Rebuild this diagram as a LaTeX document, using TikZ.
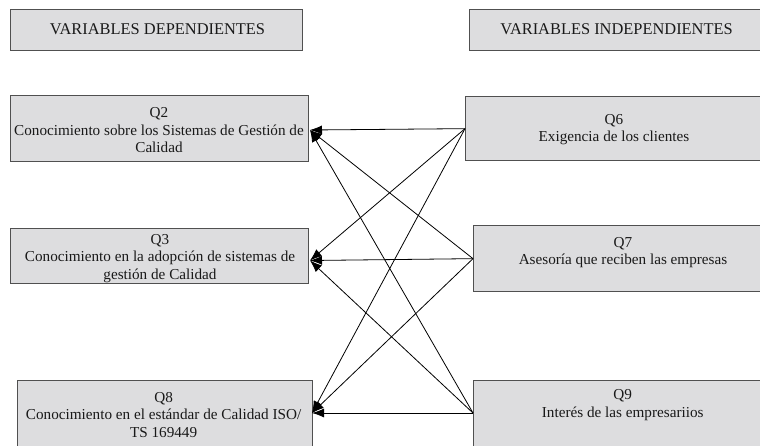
\documentclass[tikz,border=0pt]{standalone}
\usepackage{fontspec}
\setmainfont{Liberation Serif}
\usetikzlibrary{arrows.meta}
\definecolor{boxfill}{RGB}{221,221,223}
\definecolor{boxline}{RGB}{80,80,80}
\definecolor{txtcol}{RGB}{25,25,25}
\begin{document}
\begin{tikzpicture}[x=1pt,y=-1pt,
  box/.style={draw=boxline, fill=boxfill, line width=1.3pt, anchor=north west, inner sep=0pt},
  txt/.style={align=center, font=\fontsize{15.2}{17.5}\selectfont, inner sep=0pt, text=txtcol},
  hdr/.style={font=\fontsize{16.4}{19}\selectfont, inner sep=0pt, text=txtcol},
  link/.style={-{Latex[length=12pt,width=9pt]}, line width=0.8pt, draw=black}]
\clip (0,0) rectangle (760,445);
% headers
\node[box, minimum width=292pt, minimum height=41pt] (h1) at (10,9) {};
\node[hdr] (h1t) at (157.5,29.5) {VARIABLES DEPENDIENTES};
\node[box, minimum width=300pt, minimum height=41pt] (h2) at (469,9) {};
\node[hdr] (h2t) at (616.5,29.5) {VARIABLES INDEPENDIENTES};
% left boxes
\node[box, minimum width=298pt, minimum height=66pt] (q2) at (10,95) {};
\node[txt] (q2t) at (159,130.5) {Q2\\Conocimiento sobre los Sistemas de Gestión de\\Calidad};
\node[box, minimum width=298pt, minimum height=55pt] (q3) at (10,228) {};
\node[txt] (q3t) at (160,258.5) {Q3\\Conocimiento en la adopción de sistemas de\\gestión de Calidad};
\node[box, minimum width=295pt, minimum height=80pt] (q8) at (17,380) {};
\node[txt] (q8t) at (163.6,415) {Q8\\Conocimiento en el estándar de Calidad ISO/\\TS 169449};
% right boxes
\node[box, minimum width=300pt, minimum height=64pt] (q6) at (465,96) {};
\node[txt] (q6t) at (614,129.5) {Q6\\Exigencia de los clientes};
\node[box, minimum width=300pt, minimum height=66pt] (q7) at (473,225) {};
\node[txt] (q7t) at (623,252.5) {Q7\\Asesoría que reciben las empresas};
\node[box, minimum width=300pt, minimum height=80pt] (q9) at (473,380) {};
\node[txt] (q9t) at (622.7,405) {Q9\\Interés de las empresariios};
% connector ends
\coordinate (q2in) at (310,130);
\coordinate (q3in) at (310,260.5);
\coordinate (q8in) at (312,413);
\coordinate (q9out) at (473,413);
% connectors
\foreach \s in {q6.west, q7.west, q9out}{
  \draw[link] (\s) -- (q2in);
  \draw[link] (\s) -- (q3in);
  \draw[link] (\s) -- (q8in);
}
\end{tikzpicture}
\end{document}
